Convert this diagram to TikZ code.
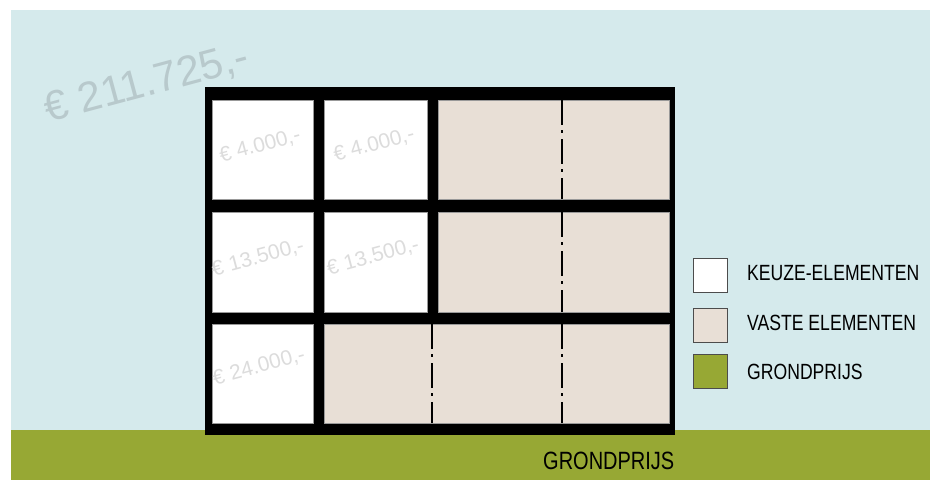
\documentclass[tikz,border=0pt]{standalone}
\usepackage{fontspec}
\setmainfont{Liberation Sans}
\newfontfamily\condfont{Liberation Sans}[FakeStretch=0.8]
\definecolor{sky}{HTML}{D5EAEC}
\definecolor{grass}{HTML}{97A834}
\definecolor{beige}{HTML}{E8DFD6}
\definecolor{bigtxt}{HTML}{B8C9CC}
\definecolor{smalltxt}{HTML}{DCDCDC}
\begin{document}
\begin{tikzpicture}[x=1pt,y=-1pt,
  cellw/.style={draw=gray!80, line width=0.6pt, fill=white, inner sep=0pt},
  cellb/.style={draw=gray!80, line width=0.6pt, fill=beige, inner sep=0pt},
  price/.style={text=smalltxt, font=\fontsize{21}{21}\selectfont, rotate=15, inner sep=0pt},
  legbox/.style={draw=black!70, line width=0.6pt, minimum width=34pt, minimum height=34pt, inner sep=0pt},
  legtxt/.style={anchor=west, font=\condfont\fontsize{22}{22}\selectfont, inner sep=0pt},
  axis/.style={line width=1.1pt, dash pattern=on 25pt off 5pt on 3pt off 6pt}]
\useasboundingbox (0,0) rectangle (930,480);
\fill[white] (0,0) rectangle (930,480);
\fill[sky] (11,10) rectangle (930,430);
\fill[grass] (11,430) rectangle (930,480);
% building frame
\node[fill=black, minimum width=470pt, minimum height=348pt, inner sep=0pt] (frame) at (440,261) {};
% row 1
\node[cellw, minimum width=101pt, minimum height=99pt] (c11) at (262.5,149.5) {};
\node[cellw, minimum width=103pt, minimum height=99pt] (c12) at (375.5,149.5) {};
\node[cellb, minimum width=231pt, minimum height=99pt] (c13) at (553.5,149.5) {};
% row 2
\node[cellw, minimum width=101pt, minimum height=100pt] (c21) at (262.5,262) {};
\node[cellw, minimum width=103pt, minimum height=100pt] (c22) at (375.5,262) {};
\node[cellb, minimum width=231pt, minimum height=100pt] (c23) at (553.5,262) {};
% row 3
\node[cellw, minimum width=101pt, minimum height=99pt] (c31) at (262.5,373.5) {};
\node[cellb, minimum width=345pt, minimum height=99pt] (c32) at (496.5,373.5) {};
% axis lines
\coordinate (a1t) at (562,100); \coordinate (a1b) at (562,199);
\coordinate (a2t) at (562,212); \coordinate (a2b) at (562,312);
\coordinate (a3t) at (432,324); \coordinate (a3b) at (432,423);
\coordinate (a4t) at (562,324); \coordinate (a4b) at (562,423);
\draw[axis] (a1t) -- (a1b);
\draw[axis] (a2t) -- (a2b);
\draw[axis] (a3t) -- (a3b);
\draw[axis] (a4t) -- (a4b);
% prices
\node[text=bigtxt, font=\fontsize{42}{42}\selectfont, rotate=15, inner sep=0pt] (total) at (147,84) {€ 211.725,-};
\node[price] (p11) at (260,146) {€ 4.000,-};
\node[price] (p12) at (374,145) {€ 4.000,-};
\node[price] (p21) at (258,258) {€ 13.500,-};
\node[price] (p22) at (373,257) {€ 13.500,-};
\node[price] (p31) at (259,367) {€ 24.000,-};
% legend
\node[legbox, fill=white] (l1) at (710,275.5) {};
\node[legbox, fill=beige] (l2) at (710,325) {};
\node[legbox, fill=grass] (l3) at (710,371.5) {};
\node[legtxt] (t1) at (747,273) {KEUZE-ELEMENTEN};
\node[legtxt] (t2) at (747,323) {VASTE ELEMENTEN};
\node[legtxt] (t3) at (747,372) {GRONDPRIJS};
% ground label
\node[anchor=west, font=\condfont\fontsize{25}{25}\selectfont, inner sep=0pt] (ground) at (543,461) {GRONDPRIJS};
\end{tikzpicture}
\end{document}
